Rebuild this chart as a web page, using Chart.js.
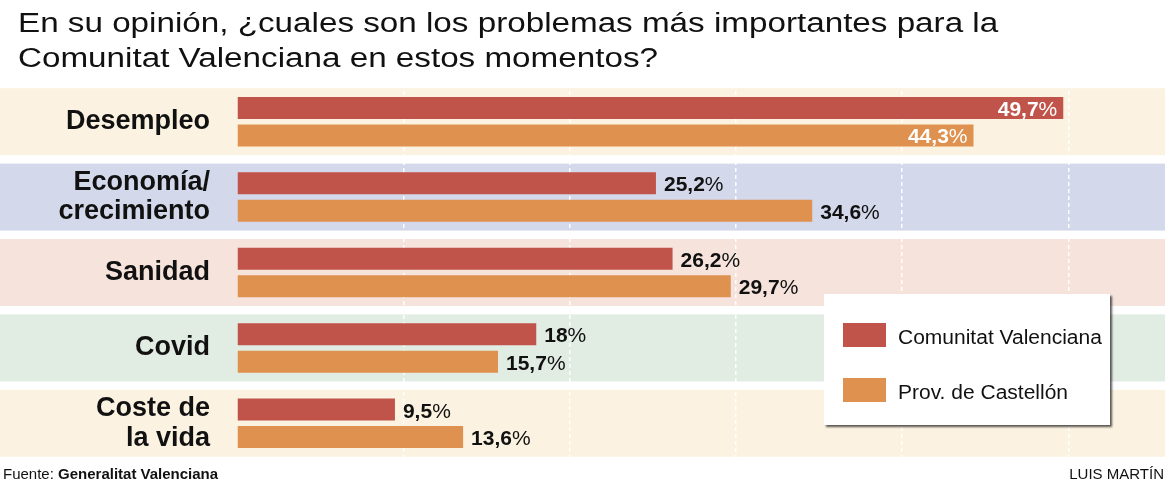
<!DOCTYPE html>
<html><head><meta charset="utf-8">
<script src="https://cdn.jsdelivr.net/npm/chart.js@4.4.1/dist/chart.umd.min.js"></script>
<style>
html,body{margin:0;padding:0;background:#fff;}
#wrap{position:relative;width:1168px;height:483px;overflow:hidden;font-family:"Liberation Sans",Arial,Helvetica,sans-serif;color:#111;}
#c{position:absolute;left:0;top:0;}
#title{position:absolute;left:18px;top:6px;font-size:27px;line-height:35px;transform:scaleX(1.23);transform-origin:0 0;white-space:nowrap;}
#legend{position:absolute;left:824px;top:294px;width:286px;height:131px;background:#fff;box-shadow:2px 2px 2px rgba(0,0,0,0.65);}
.li{position:absolute;left:19px;}
.sw{position:absolute;left:0;width:43px;height:24px;}
.lt{position:absolute;left:55px;font-size:20px;line-height:20px;white-space:nowrap;transform:scaleX(1.05);transform-origin:0 0;}
#src{position:absolute;left:3px;top:466px;font-size:15px;line-height:15px;white-space:nowrap;}
#author{position:absolute;right:4px;top:466px;font-size:15px;line-height:15px;white-space:nowrap;}
</style>
</head><body>
<div id="wrap">
<canvas id="c" width="1168" height="483"></canvas>
<div id="title">En su opinión, ¿cuales son los problemas más importantes para la<br>Comunitat Valenciana en estos momentos?</div>
<div id="legend"></div>
<div id="src">Fuente: <b>Generalitat Valenciana</b></div>
<div id="author">LUIS MARTÍN</div>
</div>
<script>
const categories = [["Desempleo"], ["Economía/", "crecimiento"], ["Sanidad"], ["Covid"], ["Coste de", "la vida"]];
const seriesNames = ["Comunitat Valenciana", "Prov. de Castellón"];
const comunitatValenciana = [49.7, 25.2, 26.2, 18, 9.5];
const provCastellon = [44.3, 34.6, 29.7, 15.7, 13.6];
const seriesColors = ["#c0544b", "#df914f"];
const bandColors = ["#fbf2e1", "#d3d9ea", "#f6e3dc", "#e1ece2", "#fbf2e1"];

const FONT = '"Liberation Sans", Arial, Helvetica, sans-serif';

// legend (HTML)
const legendEl = document.getElementById('legend');
seriesNames.forEach((n, i) => {
  const row = document.createElement('div');
  row.className = 'li';
  row.style.top = (29 + i * 55) + 'px';
  row.innerHTML = '<div class="sw" style="top:0;background:' + seriesColors[i] + '"></div>' +
    '<div class="lt" style="top:4px">' + n + '</div>';
  legendEl.appendChild(row);
});

const bandsPlugin = {
  id: 'bands',
  beforeDraw(chart) {
    const ctx = chart.ctx, ys = chart.scales.y;
    ctx.save();
    categories.forEach((c, i) => {
      const y = ys.getPixelForValue(i);
      ctx.fillStyle = bandColors[i];
      ctx.fillRect(0, y - 33.5, chart.width - 3, 67);
    });
    ctx.restore();
  }
};

const valueLabels = {
  id: 'valueLabels',
  afterDatasetsDraw(chart) {
    const ctx = chart.ctx;
    ctx.save();
    ctx.textBaseline = 'alphabetic';
    chart.data.datasets.forEach((ds, di) => {
      const meta = chart.getDatasetMeta(di);
      meta.data.forEach((bar, i) => {
        const v = ds.data[i];
        const num = String(v).replace('.', ',');
        ctx.font = 'bold 21px ' + FONT;
        const wn = ctx.measureText(num).width;
        ctx.font = '21px ' + FONT;
        const wp = ctx.measureText('%').width;
        const inside = v > 40;
        let x;
        if (inside) { x = bar.x - 6 - wn - wp; ctx.fillStyle = '#fff'; }
        else { x = bar.x + 8; ctx.fillStyle = '#111'; }
        const y = bar.y + 8;
        ctx.font = 'bold 21px ' + FONT;
        ctx.fillText(num, x, y);
        ctx.font = '21px ' + FONT;
        ctx.fillText('%', x + wn, y);
      });
    });
    ctx.restore();
  }
};

new Chart(document.getElementById('c'), {
  type: 'bar',
  data: {
    labels: categories,
    datasets: [
      { label: seriesNames[0], data: comunitatValenciana, backgroundColor: seriesColors[0], barPercentage: 0.8, categoryPercentage: 0.73 },
      { label: seriesNames[1], data: provCastellon, backgroundColor: seriesColors[1], barPercentage: 0.8, categoryPercentage: 0.73 }
    ]
  },
  options: {
    indexAxis: 'y',
    responsive: false,
    animation: false,
    events: [],
    layout: { padding: { top: 84, bottom: 22, left: 0, right: 0 } },
    plugins: { legend: { display: false }, tooltip: { enabled: false }, title: { display: false } },
    scales: {
      x: {
        min: 0, max: 56,
        ticks: { display: false, stepSize: 10 },
        grid: {
          drawTicks: false,
          lineWidth: 1.5,
          color: (c) => (c.tick && c.tick.value > 0 && c.tick.value % 10 === 0) ? 'rgba(255,255,255,0.95)' : 'rgba(0,0,0,0)'
        },
        border: { display: false, dash: [4, 3] },
        afterFit: (s) => { s.height = 0; s.paddingLeft = 0; s.paddingRight = 0; s.paddingTop = 0; s.paddingBottom = 0; }
      },
      y: {
        grid: { display: false, drawTicks: false },
        border: { display: false },
        ticks: { color: '#111', padding: 27, font: { family: FONT, size: 27, weight: 'bold', lineHeight: 1.1 } },
        afterFit: (s) => { s.width = 237; s.paddingTop = 0; s.paddingBottom = 0; s.paddingLeft = 0; s.paddingRight = 0; }
      }
    }
  },
  plugins: [bandsPlugin, valueLabels]
});
</script>
</body></html>
